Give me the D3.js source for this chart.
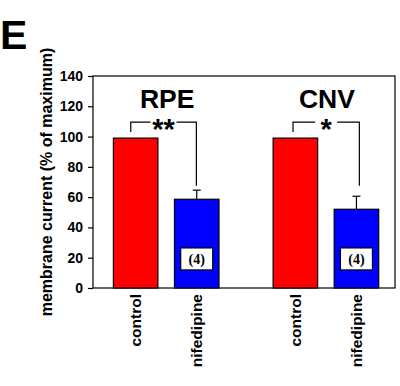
<!DOCTYPE html>
<html>
<head>
<meta charset="utf-8">
<script src="https://cdn.jsdelivr.net/npm/d3@7"></script>
<style>
  html, body { margin: 0; padding: 0; background: #fff; }
  svg { display: block; font-family: Arial, "Liberation Sans", sans-serif; }
</style>
</head>
<body>
<svg id="chart" width="400" height="386"></svg>
<script>
// ---- data ----
const groups = ["RPE", "CNV"];
const conditions = ["control", "nifedipine"];
const rpeValues = [99, 58.6];
const rpeErrors = [0, 6];
const cnvValues = [99, 52];
const cnvErrors = [0, 8.6];
const nLabels = ["(4)", "(4)"];
const significance = ["**", "*"];
const yTicks = [0, 20, 40, 60, 80, 100, 120, 140];
const colors = ["#ff0000", "#0000ff"];

const seriesValues = [rpeValues, cnvValues];
const seriesErrors = [rpeErrors, cnvErrors];

// ---- layout ----
const svg = d3.select("#chart");
const mLeft = 93, mRight = 395, mTop = 76, mBottom = 288;

const y = d3.scaleLinear().domain([0, 140]).range([mBottom, mTop]);
const x0 = d3.scaleBand().domain(groups).range([113.4, 378.7])
  .paddingInner(0.339).paddingOuter(0);
const x1 = d3.scaleBand().domain(conditions).range([0, x0.bandwidth()])
  .paddingInner(0.271).paddingOuter(0);

// Panel letter
svg.append("text").attr("x", 0).attr("y", 49)
  .attr("font-size", 41).attr("font-weight", "bold").text("E");

// frame
svg.append("rect").attr("x", mLeft).attr("y", mTop)
  .attr("width", mRight - mLeft).attr("height", mBottom - mTop)
  .attr("fill", "none").attr("stroke", "#000").attr("stroke-width", 1.2);

// y axis
const yAxis = svg.append("g").attr("transform", `translate(${mLeft},0)`)
  .call(d3.axisLeft(y).tickValues(yTicks).tickSize(5).tickPadding(5));
yAxis.select(".domain").remove();
yAxis.selectAll("line").attr("stroke", "#000").attr("stroke-width", 1.2);
yAxis.selectAll("text").attr("font-size", 14).attr("font-weight", "bold")
  .attr("font-family", "Arial, 'Liberation Sans', sans-serif").attr("fill", "#000");

// y title
svg.append("text")
  .attr("transform", `translate(52,${(mTop + mBottom) / 2}) rotate(-90)`)
  .attr("text-anchor", "middle").attr("font-size", 16).attr("font-weight", "bold")
  .text("membrane current (% of maximum)");

const bracketOffsets = [[-4.9, -0.35], [-2.35, 2.9]];
const starGaps = [13, 11];

groups.forEach((g, gi) => {
  const vals = seriesValues[gi], errs = seriesErrors[gi];
  const gx = x0(g);
  const cx = c => gx + x1(c) + x1.bandwidth() / 2;

  // bars
  conditions.forEach((c, ci) => {
    svg.append("rect")
      .attr("x", gx + x1(c)).attr("y", y(vals[ci]))
      .attr("width", x1.bandwidth()).attr("height", y(0) - y(vals[ci]))
      .attr("fill", colors[ci]).attr("stroke", "#000").attr("stroke-width", 1.2);
    if (errs[ci] > 0) {
      const ex = cx(c);
      svg.append("line").attr("x1", ex).attr("x2", ex)
        .attr("y1", y(vals[ci])).attr("y2", y(vals[ci] + errs[ci]))
        .attr("stroke", "#000").attr("stroke-width", 1.2);
      svg.append("line").attr("x1", ex - 4).attr("x2", ex + 4)
        .attr("y1", y(vals[ci] + errs[ci])).attr("y2", y(vals[ci] + errs[ci]))
        .attr("stroke", "#000").attr("stroke-width", 1.2);
    }
    // x labels
    svg.append("text")
      .attr("transform", `translate(${cx(c)},${mBottom + 6}) rotate(-90)`)
      .attr("text-anchor", "end").attr("dy", "0.35em")
      .attr("font-size", 15.5).attr("font-weight", "bold").text(c);
  });

  // n box on nifedipine bar
  const nx = cx("nifedipine");
  const boxY = y(19.2);
  svg.append("rect").attr("x", nx - 16).attr("y", boxY - 11)
    .attr("width", 32).attr("height", 22)
    .attr("fill", "#fff").attr("stroke", "#000").attr("stroke-width", 1.2);
  svg.append("text").attr("x", nx).attr("y", boxY).attr("dy", "0.35em")
    .attr("text-anchor", "middle")
    .attr("font-family", "'Liberation Serif', 'Times New Roman', serif")
    .attr("font-weight", "bold").attr("font-size", 14).text(nLabels[gi]);

  // group title
  svg.append("text").attr("x", gx + x0.bandwidth() / 2 + 1).attr("y", 108)
    .attr("text-anchor", "middle").attr("font-size", 26.5).attr("font-weight", "bold")
    .text(g);

  // significance bracket
  const lx = cx("control") + bracketOffsets[gi][0];
  const rx = cx("nifedipine") + bracketOffsets[gi][1];
  const by = y(109.5);
  const mid = (lx + rx) / 2;
  const gap = starGaps[gi];
  const path = d3.path();
  path.moveTo(lx, y(103)); path.lineTo(lx, by); path.lineTo(mid - gap, by);
  path.moveTo(mid + gap, by); path.lineTo(rx, by); path.lineTo(rx, y(67.5));
  svg.append("path").attr("d", path.toString())
    .attr("fill", "none").attr("stroke", "#000").attr("stroke-width", 1.2);
  svg.append("text").attr("x", mid).attr("y", by + 17)
    .attr("text-anchor", "middle").attr("font-size", 29).attr("font-weight", "bold")
    .text(significance[gi]);
});
</script>
</body>
</html>
